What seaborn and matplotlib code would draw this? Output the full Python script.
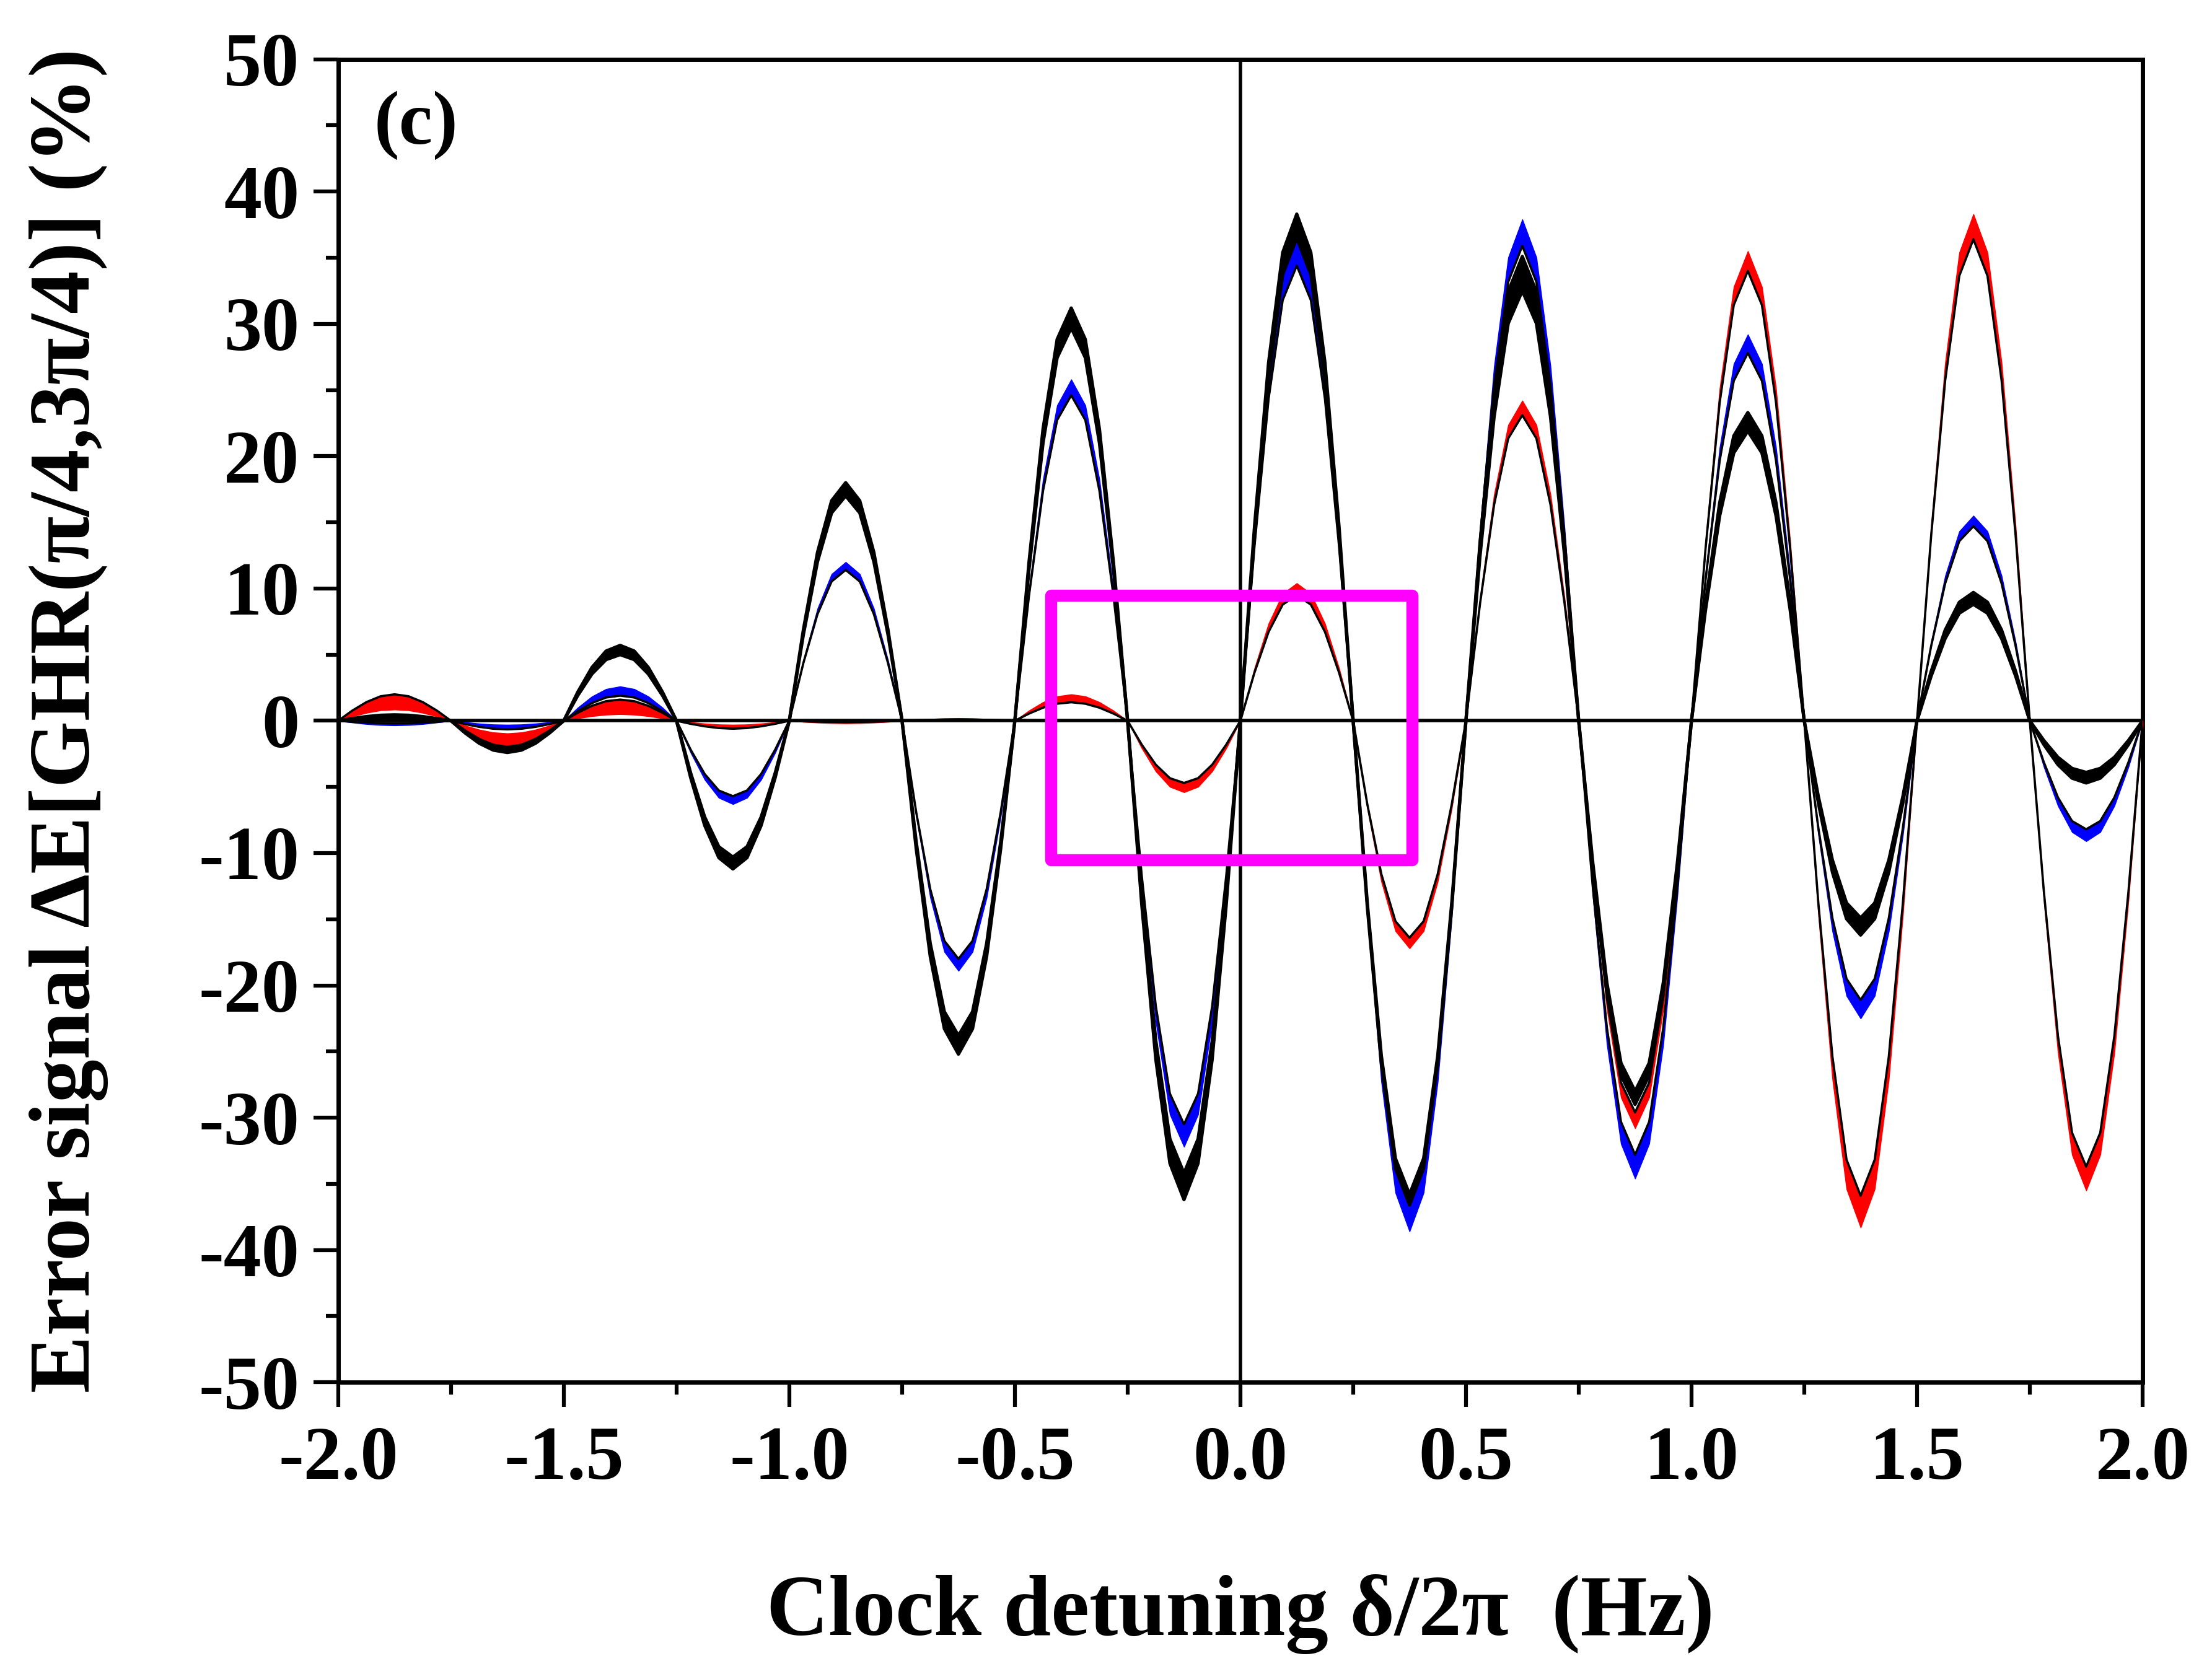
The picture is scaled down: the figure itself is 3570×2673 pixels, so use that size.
import numpy as np
import pandas as pd
import matplotlib
matplotlib.use("Agg")
import matplotlib.pyplot as plt
from matplotlib.patches import Rectangle
from matplotlib.ticker import MultipleLocator, FormatStrFormatter
import seaborn as sns

# detuning grid (Hz), 1/32 Hz steps
detuning = np.linspace(-2.0, 2.0, 129)

# black band: outer and inner edge (%)
black_outer = [0, 0.17, 0.32, 0.42, 0.45, 0.42, 0.32, 0.17,
               0, -0.92, -1.7, -2.22, -2.4, -2.22, -1.7, -0.92,
               0, 2.18, 4.03, 5.27, 5.7, 5.27, 4.03, 2.18,
               0, -4.29, -7.92, -10.35, -11.2, -10.35, -7.92, -4.29,
               0, 6.89, 12.73, 16.63, 18.0, 16.63, 12.73, 6.89,
               0, -9.65, -17.82, -23.28, -25.2, -23.28, -17.82, -9.65,
               0, 11.95, 22.06, 28.83, 31.2, 28.83, 22.06, 11.95,
               0, -13.86, -25.59, -33.45, -36.2, -33.45, -25.59, -13.86,
               0, 14.67, 27.08, 35.39, 38.3, 35.39, 27.08, 14.67,
               0, -14.02, -25.88, -33.82, -36.6, -33.82, -25.88, -14.02,
               0, 13.44, 24.82, 32.43, 35.1, 32.43, 24.82, 13.44,
               0, -11.11, -20.5, -26.8, -29.0, -26.8, -20.5, -11.11,
               0, 8.92, 16.47, 21.53, 23.3, 21.53, 16.47, 8.92,
               0, -6.2, -11.45, -14.97, -16.2, -14.97, -11.45, -6.2,
               0, 3.72, 6.86, 8.96, 9.7, 8.96, 6.86, 3.72,
               0, -1.8, -3.32, -4.34, -4.7, -4.34, -3.32, -1.8,
               0]
black_inner = [0, 0.1, 0.18, 0.23, 0.25, 0.23, 0.18, 0.1,
               0, -0.77, -1.41, -1.85, -2.0, -1.85, -1.41, -0.77,
               0, 1.92, 3.54, 4.62, 5.0, 4.62, 3.54, 1.92,
               0, -3.94, -7.28, -9.52, -10.3, -9.52, -7.28, -3.94,
               0, 6.51, 12.02, 15.71, 17.0, 15.71, 12.02, 6.51,
               0, -9.12, -16.83, -21.99, -23.8, -21.99, -16.83, -9.12,
               0, 11.38, 21.0, 27.44, 29.7, 27.44, 21.0, 11.38,
               0, -13.1, -24.18, -31.6, -34.2, -31.6, -24.18, -13.1,
               0, 13.98, 25.81, 33.73, 36.5, 33.73, 25.81, 13.98,
               0, -13.71, -25.31, -33.08, -35.8, -33.08, -25.31, -13.71,
               0, 12.45, 22.98, 30.03, 32.5, 30.03, 22.98, 12.45,
               0, -10.72, -19.8, -25.87, -28.0, -25.87, -19.8, -10.72,
               0, 8.39, 15.48, 20.24, 21.9, 20.24, 15.48, 8.39,
               0, -5.71, -10.53, -13.77, -14.9, -13.77, -10.53, -5.71,
               0, 3.37, 6.22, 8.13, 8.8, 8.13, 6.22, 3.37,
               0, -1.49, -2.76, -3.6, -3.9, -3.6, -2.76, -1.49,
               0]

# blue band: edge drawn with black line, and coloured edge
blue_line = [0, -0.08, -0.14, -0.18, -0.2, -0.18, -0.14, -0.08,
             0, -0.25, -0.46, -0.6, -0.65, -0.6, -0.46, -0.25,
             0, 0.73, 1.34, 1.76, 1.9, 1.76, 1.34, 0.73,
             0, -2.18, -4.03, -5.27, -5.7, -5.27, -4.03, -2.18,
             0, 4.37, 8.06, 10.53, 11.4, 10.53, 8.06, 4.37,
             0, -6.89, -12.73, -16.63, -18.0, -16.63, -12.73, -6.89,
             0, 9.42, 17.39, 22.73, 24.6, 22.73, 17.39, 9.42,
             0, -11.68, -21.56, -28.18, -30.5, -28.18, -21.56, -11.68,
             0, 13.18, 24.32, 31.79, 34.4, 31.79, 24.32, 13.18,
             0, -14.02, -25.88, -33.82, -36.6, -33.82, -25.88, -14.02,
             0, 13.75, 25.38, 33.17, 35.9, 33.17, 25.38, 13.75,
             0, -12.56, -23.19, -30.31, -32.8, -30.31, -23.19, -12.56,
             0, 10.65, 19.65, 25.69, 27.8, 25.69, 19.65, 10.65,
             0, -8.08, -14.92, -19.5, -21.1, -19.5, -14.92, -8.08,
             0, 5.63, 10.39, 13.58, 14.7, 13.58, 10.39, 5.63,
             0, -3.14, -5.8, -7.58, -8.2, -7.58, -5.8, -3.14,
             0]
blue_edge = [0, -0.13, -0.25, -0.32, -0.35, -0.32, -0.25, -0.13,
             0, -0.11, -0.21, -0.28, -0.3, -0.28, -0.21, -0.11,
             0, 1.0, 1.84, 2.4, 2.6, 2.4, 1.84, 1.0,
             0, -2.41, -4.45, -5.82, -6.3, -5.82, -4.45, -2.41,
             0, 4.6, 8.48, 11.09, 12.0, 11.09, 8.48, 4.6,
             0, -7.24, -13.36, -17.46, -18.9, -17.46, -13.36, -7.24,
             0, 9.88, 18.24, 23.84, 25.8, 23.84, 18.24, 9.88,
             0, -12.33, -22.77, -29.75, -32.2, -29.75, -22.77, -12.33,
             0, 13.98, 25.81, 33.73, 36.5, 33.73, 25.81, 13.98,
             0, -14.78, -27.29, -35.67, -38.6, -35.67, -27.29, -14.78,
             0, 14.52, 26.8, 35.02, 37.9, 35.02, 26.8, 14.52,
             0, -13.25, -24.46, -31.97, -34.6, -31.97, -24.46, -13.25,
             0, 11.18, 20.64, 26.98, 29.2, 26.98, 20.64, 11.18,
             0, -8.62, -15.91, -20.79, -22.5, -20.79, -15.91, -8.62,
             0, 5.94, 10.96, 14.32, 15.5, 14.32, 10.96, 5.94,
             0, -3.49, -6.43, -8.41, -9.1, -8.41, -6.43, -3.49,
             0]

# red band: edge drawn with black line, and coloured edge
red_line = [0, 0.77, 1.41, 1.85, 2.0, 1.85, 1.41, 0.77,
            0, -0.8, -1.48, -1.94, -2.1, -1.94, -1.48, -0.8,
            0, 0.61, 1.13, 1.48, 1.6, 1.48, 1.13, 0.61,
            0, -0.23, -0.42, -0.55, -0.6, -0.55, -0.42, -0.23,
            0, -0.04, -0.07, -0.09, -0.1, -0.09, -0.07, -0.04,
            0, 0.04, 0.07, 0.09, 0.1, 0.09, 0.07, 0.04,
            0, 0.54, 0.99, 1.29, 1.4, 1.29, 0.99, 0.54,
            0, -1.8, -3.32, -4.34, -4.7, -4.34, -3.32, -1.8,
            0, 3.64, 6.72, 8.78, 9.5, 8.78, 6.72, 3.64,
            0, -6.28, -11.59, -15.15, -16.4, -15.15, -11.59, -6.28,
            0, 8.85, 16.33, 21.34, 23.1, 21.34, 16.33, 8.85,
            0, -11.34, -20.93, -27.35, -29.6, -27.35, -20.93, -11.34,
            0, 13.02, 24.04, 31.42, 34.0, 31.42, 24.04, 13.02,
            0, -13.75, -25.38, -33.17, -35.9, -33.17, -25.38, -13.75,
            0, 13.94, 25.73, 33.63, 36.4, 33.63, 25.73, 13.94,
            0, -12.91, -23.83, -31.14, -33.7, -31.14, -23.83, -12.91,
            0]
red_edge = [0, 0.33, 0.6, 0.79, 0.85, 0.79, 0.6, 0.33,
            0, -0.36, -0.67, -0.88, -0.95, -0.88, -0.67, -0.36,
            0, 0.19, 0.35, 0.46, 0.5, 0.46, 0.35, 0.19,
            0, -0.11, -0.21, -0.28, -0.3, -0.28, -0.21, -0.11,
            0, -0.08, -0.14, -0.18, -0.2, -0.18, -0.14, -0.08,
            0, 0.08, 0.14, 0.18, 0.2, 0.18, 0.14, 0.08,
            0, 0.77, 1.41, 1.85, 2.0, 1.85, 1.41, 0.77,
            0, -2.07, -3.82, -4.99, -5.4, -4.99, -3.82, -2.07,
            0, 3.98, 7.35, 9.61, 10.4, 9.61, 7.35, 3.98,
            0, -6.59, -12.16, -15.89, -17.2, -15.89, -12.16, -6.59,
            0, 9.27, 17.11, 22.36, 24.2, 22.36, 17.11, 9.27,
            0, -11.8, -21.78, -28.46, -30.8, -28.46, -21.78, -11.8,
            0, 13.6, 25.1, 32.8, 35.5, 32.8, 25.1, 13.6,
            0, -14.67, -27.08, -35.39, -38.3, -35.39, -27.08, -14.67,
            0, 14.67, 27.08, 35.39, 38.3, 35.39, 27.08, 14.67,
            0, -13.6, -25.1, -32.8, -35.5, -32.8, -25.1, -13.6,
            0]

# highlighted window (data coords)
box_x = [-0.42, 0.38]
box_y = [-10.5, 9.5]

sns.set_style("ticks")
plt.rcParams['font.family'] = ['Liberation Serif', 'DejaVu Serif']
plt.rcParams['font.weight'] = 'bold'
plt.rcParams['axes.unicode_minus'] = False
plt.rcParams['text.color'] = 'black'
plt.rcParams['axes.labelcolor'] = 'black'
plt.rcParams['xtick.color'] = 'black'
plt.rcParams['ytick.color'] = 'black'
plt.rcParams['axes.edgecolor'] = 'black'

fig = plt.figure(figsize=(35.7, 26.73), dpi=100)
ax = fig.add_axes([0.1529, 0.1653, 0.9686 - 0.1529, 0.9642 - 0.1653])

# filled bands
ax.fill_between(detuning, black_outer, black_inner, color='black', lw=1, zorder=2)
ax.fill_between(detuning, blue_line, blue_edge, color='#0000FF', lw=1, zorder=3)
ax.fill_between(detuning, red_line, red_edge, color='#FF0000', lw=1, zorder=4)

# edges as lines through seaborn
thick = pd.DataFrame({
    'x': np.tile(detuning, 2),
    'y': np.concatenate([black_outer, black_inner]),
    'curve': np.repeat(['black_outer', 'black_inner'], len(detuning)),
})
thin = pd.DataFrame({
    'x': np.tile(detuning, 2),
    'y': np.concatenate([blue_line, red_line]),
    'curve': np.repeat(['blue_line', 'red_line'], len(detuning)),
})
sns.lineplot(data=thick, x='x', y='y', hue='curve', units='curve', estimator=None,
             palette=['black'] * 2, linewidth=3.8, legend=False, sort=False, ax=ax, zorder=5)
sns.lineplot(data=thin, x='x', y='y', hue='curve', units='curve', estimator=None,
             palette=['black'] * 2, linewidth=2.6, legend=False, sort=False, ax=ax, zorder=5)

ax.axhline(0, color='black', lw=4, zorder=6)
ax.axvline(0, color='black', lw=4, zorder=6)

ax.add_patch(Rectangle((box_x[0], box_y[0]), box_x[1] - box_x[0], box_y[1] - box_y[0],
                       fill=False, edgecolor='#FF00FF', lw=14, joinstyle='round', zorder=7))

ax.set_xlim(-2, 2)
ax.set_ylim(-50, 50)
ax.xaxis.set_major_locator(MultipleLocator(0.5))
ax.xaxis.set_minor_locator(MultipleLocator(0.25))
ax.yaxis.set_major_locator(MultipleLocator(10))
ax.yaxis.set_minor_locator(MultipleLocator(5))
ax.xaxis.set_major_formatter(FormatStrFormatter('%.1f'))
ax.yaxis.set_major_formatter(FormatStrFormatter('%d'))

ax.tick_params(which='major', direction='out', length=29, width=4.5, labelsize=88)
ax.tick_params(which='minor', direction='out', length=14.5, width=4.5)
ax.tick_params(axis='x', pad=22)
ax.tick_params(axis='y', pad=16)
for lab in ax.get_xticklabels() + ax.get_yticklabels():
    lab.set_fontweight('bold')
for s in ax.spines.values():
    s.set_linewidth(5)
    s.set_visible(True)

ax.set_xlabel('Clock detuning δ/2π  (Hz)', fontsize=100, fontweight='bold', labelpad=92)
ax.set_ylabel('Error signal ΔE[GHR(π/4,3π/4)] (%)', fontsize=100, fontweight='bold', labelpad=105)
ax.text(-1.92, 45, '(c)', fontsize=88, fontweight='bold', va='center', ha='left')

fig.savefig('out.png', dpi=100)
